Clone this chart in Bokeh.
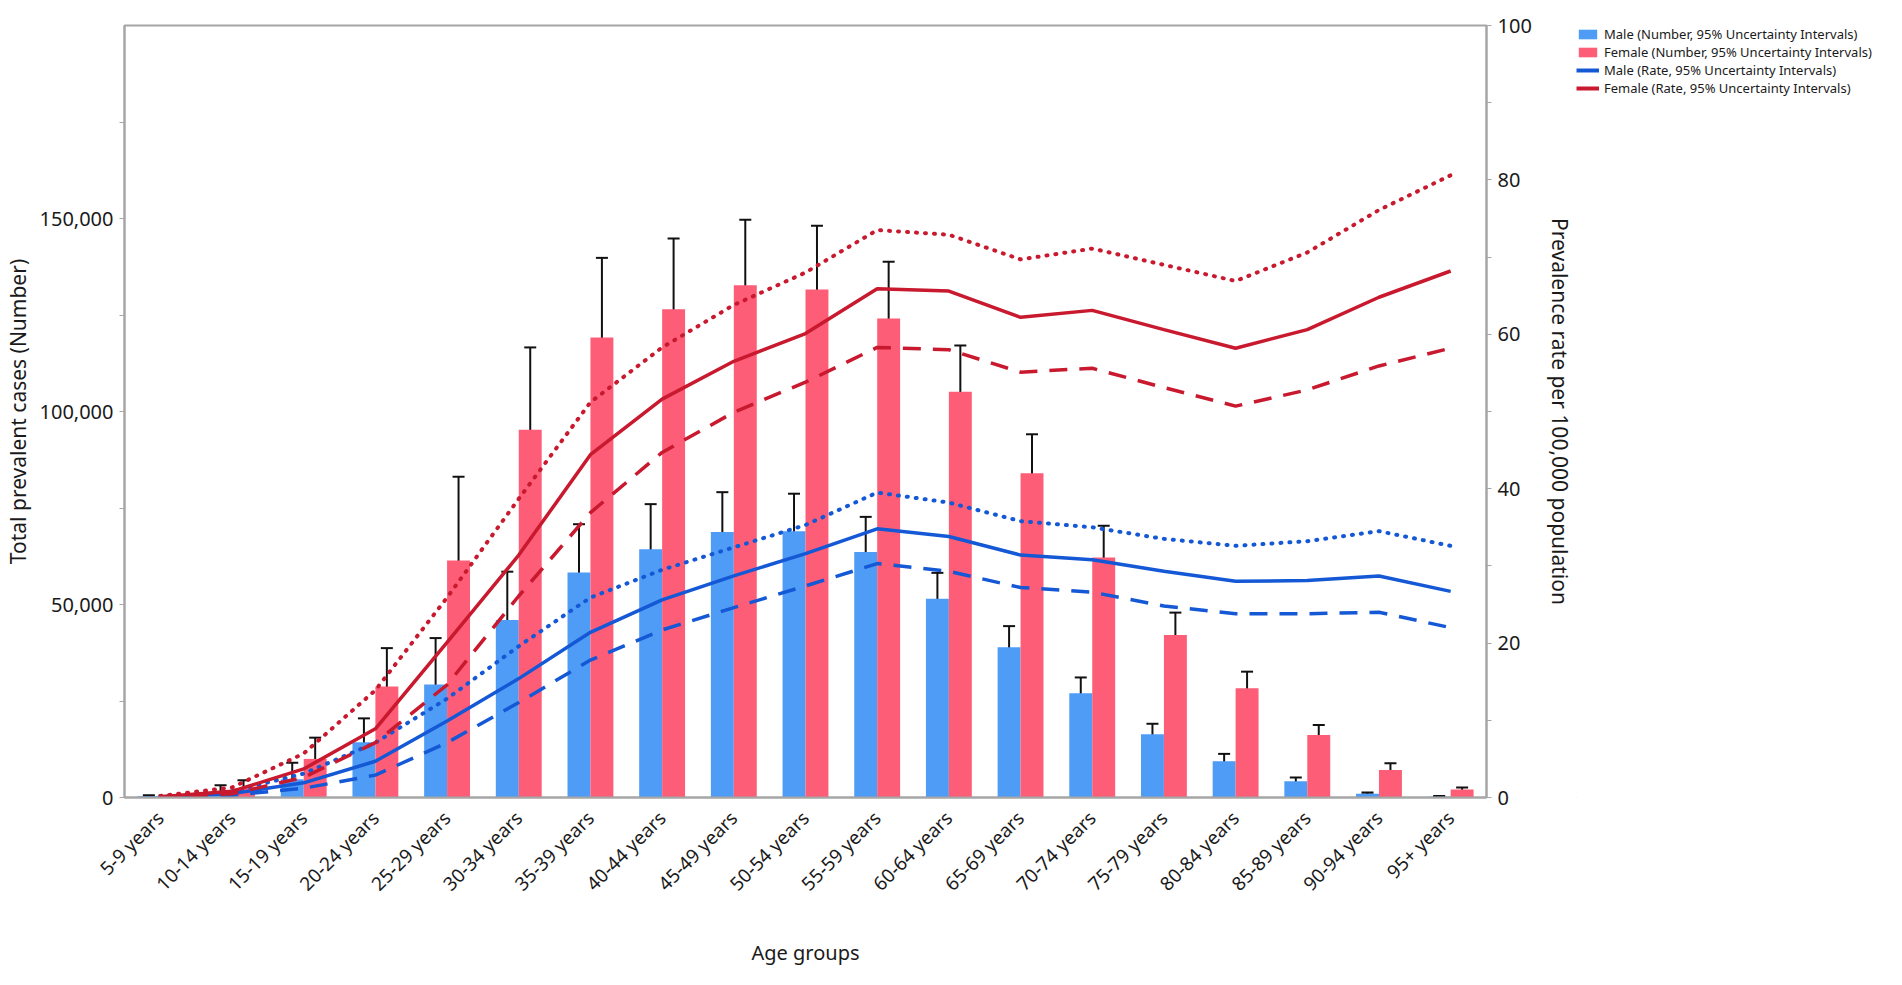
import math
from bokeh.plotting import figure
from bokeh.layouts import row
from bokeh.models import (ColumnDataSource, Range1d, LinearAxis, FixedTicker, Whisker, TeeHead,
                          Legend, LegendItem, NumeralTickFormatter)
from bokeh.embed import file_html
from bokeh.resources import INLINE

categories = ["5-9 years", "10-14 years", "15-19 years", "20-24 years", "25-29 years", "30-34 years",
              "35-39 years", "40-44 years", "45-49 years", "50-54 years", "55-59 years", "60-64 years",
              "65-69 years", "70-74 years", "75-79 years", "80-84 years", "85-89 years", "90-94 years",
              "95+ years"]

male_num = [300, 1200, 4700, 14300, 29300, 46000, 58300, 64300, 68800, 69000, 63600, 51500, 38900,
            27000, 16400, 9400, 4200, 1000, 200]
male_lo = [100, 300, 2500, 10500, 22000, 35200, 46200, 53100, 58500, 59300, 55200, 44600, 33800,
           23500, 14300, 8100, 3700, 800, 100]
male_hi = [600, 3200, 9000, 20500, 41300, 58500, 70800, 76000, 79100, 78700, 72700, 58200, 44400,
           31100, 19100, 11300, 5200, 1300, 400]

female_num = [200, 2400, 10000, 28750, 61400, 95300, 119200, 126500, 132700, 131600, 124100, 105100,
              84000, 62200, 42100, 28300, 16200, 7100, 2100]
female_lo = [100, 1200, 6800, 22000, 46500, 76000, 100000, 108900, 116100, 116100, 110300, 93300,
             74500, 55200, 37300, 24800, 14100, 5800, 1700]
female_hi = [400, 4500, 15500, 38700, 83100, 116600, 139800, 144800, 149700, 148100, 138800, 117100,
             94100, 70400, 47900, 32600, 18800, 8900, 2600]

male_rate = [0.1, 0.5, 1.9, 4.7, 9.9, 15.4, 21.4, 25.6, 28.7, 31.6, 34.8, 33.8, 31.4, 30.8, 29.3,
             28.0, 28.1, 28.7, 26.7]
male_rate_hi = [0.2, 0.8, 3.1, 7.1, 12.8, 19.6, 25.9, 29.5, 32.4, 35.3, 39.5, 38.2, 35.8, 35.0,
                33.5, 32.6, 33.2, 34.5, 32.6]
male_rate_lo = [0.05, 0.3, 1.2, 2.9, 7.1, 12.3, 17.8, 21.7, 24.6, 27.4, 30.3, 29.3, 27.2, 26.6,
                24.8, 23.8, 23.8, 24.0, 22.0]
female_rate = [0.1, 0.8, 3.7, 8.9, 20.1, 31.4, 44.4, 51.6, 56.5, 60.1, 65.9, 65.6, 62.2, 63.1,
               60.6, 58.2, 60.6, 64.8, 68.2]
female_rate_hi = [0.2, 1.3, 5.7, 13.9, 25.9, 38.7, 51.2, 58.3, 63.8, 68.0, 73.5, 72.9, 69.7, 71.1,
                  69.0, 66.9, 70.6, 76.1, 80.6]
female_rate_lo = [0.05, 0.5, 2.6, 7.1, 14.6, 26.1, 36.9, 44.7, 49.9, 53.8, 58.3, 58.0, 55.1, 55.6,
                  53.1, 50.7, 52.8, 55.9, 58.2]

left_ticks = [0, 50000, 100000, 150000]
left_minor = [25000, 75000, 125000, 175000]
right_ticks = [0, 20, 40, 60, 80, 100]
right_minor = [10, 30, 50, 70, 90]

legend_labels = ["Male (Number, 95% Uncertainty Intervals)",
                 "Female (Number, 95% Uncertainty Intervals)",
                 "Male (Rate, 95% Uncertainty Intervals)",
                 "Female (Rate, 95% Uncertainty Intervals)"]

FONT = "Noto Sans"
BAR_BLUE = "#4f9cf7"
BAR_PINK = "#fd5d77"
LINE_BLUE = "#1558d6"
LINE_RED = "#c8192e"
AXIS_GRAY = "#a6a6a6"
TEXT = "#1a1a1a"

n = len(categories)
idx = list(range(n))
bw = 0.32
src = ColumnDataSource(dict(
    x=idx,
    xm=[i - bw / 2 for i in idx],
    xf=[i + bw / 2 for i in idx],
    male=male_num, male_lo=male_lo, male_hi=male_hi,
    female=female_num, female_lo=female_lo, female_hi=female_hi,
    mr=male_rate, mr_hi=male_rate_hi, mr_lo=male_rate_lo,
    fr=female_rate, fr_hi=female_rate_hi, fr_lo=female_rate_lo,
))

p = figure(width=1576, height=969, output_backend="svg", toolbar_location=None,
           x_range=Range1d(-0.5, n - 0.5), y_range=Range1d(0, 200000),
           min_border_left=121, min_border_right=90, min_border_top=25, min_border_bottom=160)
p.extra_y_ranges = {"rate": Range1d(0, 100)}

p.xgrid.visible = False
p.ygrid.visible = False
p.outline_line_color = AXIS_GRAY
p.outline_line_width = 2
p.background_fill_color = "white"
p.border_fill_color = "white"

# bars
p.vbar(x="xm", top="male", width=bw, source=src, fill_color=BAR_BLUE, line_color=None)
p.vbar(x="xf", top="female", width=bw, source=src, fill_color=BAR_PINK, line_color=None)

# rate lines
p.line("x", "mr", source=src, y_range_name="rate", line_color=LINE_BLUE, line_width=3.5)
p.line("x", "mr_hi", source=src, y_range_name="rate", line_color=LINE_BLUE, line_width=4,
       line_dash="1 8", line_cap="round")
p.line("x", "mr_lo", source=src, y_range_name="rate", line_color=LINE_BLUE, line_width=3.5,
       line_dash="18 12")
p.line("x", "fr", source=src, y_range_name="rate", line_color=LINE_RED, line_width=3.5)
p.line("x", "fr_hi", source=src, y_range_name="rate", line_color=LINE_RED, line_width=4,
       line_dash="1 8", line_cap="round")
p.line("x", "fr_lo", source=src, y_range_name="rate", line_color=LINE_RED, line_width=3.5,
       line_dash="18 12")

# error bars
for base, lo, hi in (("xm", "male_lo", "male_hi"), ("xf", "female_lo", "female_hi")):
    w = Whisker(source=src, base=base, lower=lo, upper=hi, line_color="#111111", line_width=2,
                upper_head=TeeHead(size=12, line_width=2, line_color="#111111"),
                lower_head=TeeHead(size=12, line_width=2, line_color="#111111"))
    p.add_layout(w)

# x axis
xa = p.xaxis[0]
xa.ticker = FixedTicker(ticks=idx)
xa.major_label_overrides = {i: c for i, c in enumerate(categories)}
xa.major_label_orientation = math.pi / 4
xa.major_tick_line_color = None
xa.minor_tick_line_color = None
xa.axis_line_color = AXIS_GRAY
xa.axis_line_width = 2
xa.major_label_text_font = FONT
xa.major_label_text_font_size = "19px"
xa.major_label_text_color = TEXT
xa.major_label_standoff = 11
xa.axis_label = "Age groups"
xa.axis_label_text_font = FONT
xa.axis_label_text_font_size = "20px"
xa.axis_label_text_font_style = "normal"
xa.axis_label_text_color = TEXT
xa.axis_label_standoff = 31

# left axis
ya = p.yaxis[0]
ya.ticker = FixedTicker(ticks=left_ticks, minor_ticks=left_minor)
ya.formatter = NumeralTickFormatter(format="0,0")
ya.axis_line_color = AXIS_GRAY
ya.axis_line_width = 2
ya.major_tick_line_color = AXIS_GRAY
ya.minor_tick_line_color = AXIS_GRAY
ya.major_tick_out = 5
ya.major_tick_in = 0
ya.minor_tick_out = 5
ya.minor_tick_in = 0
ya.major_label_text_font = FONT
ya.major_label_text_font_size = "20px"
ya.major_label_text_color = TEXT
ya.major_label_standoff = 6
ya.axis_label = "Total prevalent cases (Number)"
ya.axis_label_text_font = FONT
ya.axis_label_text_font_size = "21px"
ya.axis_label_text_font_style = "normal"
ya.axis_label_text_color = TEXT
ya.axis_label_standoff = 5

# right axis
ra = LinearAxis(y_range_name="rate", ticker=FixedTicker(ticks=right_ticks, minor_ticks=right_minor))
ra.axis_line_color = AXIS_GRAY
ra.axis_line_width = 2
ra.major_tick_line_color = AXIS_GRAY
ra.minor_tick_line_color = AXIS_GRAY
ra.major_tick_out = 5
ra.major_tick_in = 0
ra.minor_tick_out = 5
ra.minor_tick_in = 0
ra.major_label_text_font = FONT
ra.major_label_text_font_size = "20px"
ra.major_label_text_color = TEXT
ra.major_label_standoff = 6
ra.axis_label = "Prevalence rate per 100,000 population"
ra.axis_label_text_font = FONT
ra.axis_label_text_font_size = "21px"
ra.axis_label_text_font_style = "normal"
ra.axis_label_text_color = TEXT
ra.axis_label_standoff = 11
p.add_layout(ra, "right")

# legend panel (separate small figure to the right of the chart); its placeholder
# renderers sit outside the visible range and only provide the legend swatches
pl = figure(width=310, height=969, output_backend="svg", toolbar_location=None,
            x_range=Range1d(0, 1), y_range=Range1d(0, 1), min_border=0)
pl.axis.visible = False
pl.xgrid.visible = False
pl.ygrid.visible = False
pl.outline_line_color = None
pl.background_fill_color = "white"
pl.border_fill_color = "white"
off = [-5.0]
lg_m = pl.vbar(x=off, top=off, width=0.1, fill_color=BAR_BLUE, line_color=None)
lg_f = pl.vbar(x=off, top=off, width=0.1, fill_color=BAR_PINK, line_color=None)
lg_ml = pl.line(x=off * 2, y=off * 2, line_color=LINE_BLUE, line_width=4)
lg_fl = pl.line(x=off * 2, y=off * 2, line_color=LINE_RED, line_width=4)

legend = Legend(items=[
    LegendItem(label=legend_labels[0], renderers=[lg_m]),
    LegendItem(label=legend_labels[1], renderers=[lg_f]),
    LegendItem(label=legend_labels[2], renderers=[lg_ml]),
    LegendItem(label=legend_labels[3], renderers=[lg_fl]),
], location="top_left")
legend.label_text_font = FONT
legend.label_text_font_size = "13px"
legend.label_text_color = TEXT
legend.label_height = 18
legend.glyph_height = 12
legend.glyph_width = 23
legend.label_standoff = 5
legend.spacing = 0
legend.padding = 0
legend.margin = 0
legend.border_line_color = None
legend.background_fill_alpha = 0
pl.add_layout(legend)

layout = row(p, pl)
open("out.html", "w").write(file_html(layout, INLINE))
